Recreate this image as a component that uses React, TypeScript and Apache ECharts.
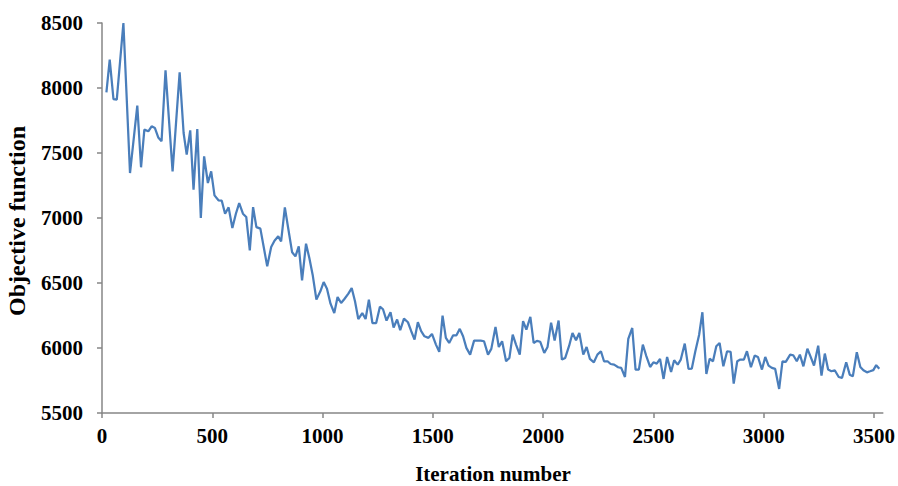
import React, { useEffect, useRef } from "react";
import * as echarts from "echarts";

const iterations: number[] = [
  20, 35, 52, 67, 97, 127, 160, 177, 192, 210, 225, 240, 255, 270, 288, 320, 352, 370, 384, 400,
  415, 432, 448, 463, 480, 495, 510, 528, 543, 558, 574, 591, 607, 622, 639, 654, 670, 685, 700, 718,
  734, 749, 767, 782, 799, 812, 829, 844, 862, 877, 892, 907, 925, 940, 955, 972, 990, 1005, 1020, 1036,
  1053, 1068, 1084, 1099, 1117, 1132, 1147, 1162, 1180, 1195, 1210, 1226, 1243, 1260, 1274, 1290, 1308, 1322, 1338, 1352,
  1369, 1387, 1402, 1417, 1432, 1447, 1462, 1480, 1496, 1514, 1529, 1544, 1559, 1574, 1592, 1607, 1622, 1637, 1652, 1669,
  1687, 1702, 1717, 1732, 1750, 1765, 1784, 1799, 1814, 1832, 1847, 1862, 1877, 1894, 1909, 1924, 1942, 1957, 1972, 1987,
  2005, 2020, 2036, 2052, 2070, 2085, 2100, 2118, 2133, 2149, 2164, 2182, 2197, 2212, 2230, 2246, 2262, 2276, 2292, 2306,
  2322, 2340, 2354, 2371, 2386, 2404, 2419, 2434, 2452, 2467, 2485, 2500, 2515, 2530, 2546, 2562, 2580, 2594, 2610, 2624,
  2642, 2659, 2674, 2690, 2707, 2722, 2740, 2755, 2770, 2785, 2800, 2817, 2834, 2850, 2864, 2880, 2894, 2910, 2924, 2942,
  2959, 2974, 2992, 3007, 3022, 3037, 3052, 3070, 3085, 3100, 3120, 3134, 3150, 3164, 3180, 3198, 3212, 3228, 3247, 3262,
  3277, 3292, 3307, 3322, 3340, 3355, 3374, 3390, 3404, 3422, 3438, 3452, 3468, 3482, 3497, 3510, 3524,
];

const objective: number[] = [
  7967, 8218, 7915, 7910, 8500, 7346, 7864, 7390, 7680, 7667, 7705, 7692, 7620, 7590, 8136, 7359, 8120, 7654, 7487, 7674,
  7218, 7685, 7000, 7474, 7269, 7359, 7174, 7136, 7133, 7033, 7082, 6923, 7033, 7115, 7033, 7008, 6751, 7084, 6930, 6918,
  6769, 6628, 6777, 6825, 6859, 6820, 7082, 6923, 6736, 6705, 6782, 6520, 6802, 6692, 6564, 6372, 6436, 6507, 6456, 6341,
  6269, 6392, 6346, 6377, 6418, 6461, 6359, 6223, 6269, 6223, 6372, 6192, 6192, 6318, 6298, 6211, 6275, 6158, 6219, 6137,
  6226, 6198, 6129, 6065, 6198, 6129, 6090, 6078, 6108, 6026, 5970, 6249, 6078, 6039, 6098, 6098, 6147, 6090, 6001, 5949,
  6057, 6057, 6057, 6052, 5949, 5993, 6162, 6008, 6052, 5898, 5924, 6103, 6026, 5949, 6206, 6142, 6239, 6039, 6055, 6048,
  5962, 6008, 6195, 6057, 6211, 5911, 5924, 6018, 6116, 6059, 6116, 5949, 6008, 5916, 5890, 5949, 5975, 5898, 5898, 5877,
  5872, 5852, 5847, 5777, 6070, 6154, 5834, 5834, 6026, 5942, 5854, 5890, 5880, 5916, 5762, 5931, 5816, 5906, 5872, 5911,
  6034, 5839, 5842, 5975, 6100, 6275, 5800, 5918, 5898, 6013, 6039, 5859, 5975, 5970, 5726, 5898, 5911, 5911, 5975, 5852,
  5941, 5931, 5834, 5931, 5865, 5847, 5839, 5685, 5898, 5893, 5949, 5944, 5898, 5949, 5859, 5995, 5936, 5865, 6018, 5788,
  5957, 5834, 5821, 5829, 5777, 5770, 5890, 5795, 5782, 5967, 5854, 5829, 5813, 5821, 5830, 5868, 5840,
];

const xTicks: number[] = [0, 500, 1000, 1500, 2000, 2500, 3000, 3500];
const xTitle = "Iteration number";
const yTitle = "Objective function";

const FONT = "'Liberation Serif', 'Times New Roman', serif";

export default function App() {
  const ref = useRef<HTMLDivElement>(null);

  useEffect(() => {
    if (!ref.current) return;
    const chart = echarts.init(ref.current, undefined, { renderer: "svg" });
    const data = iterations.map((x, i) => [x, objective[i]]);
    const axisLineStyle = { color: "#868686", width: 1.5 };
    const plain = (v: number) => String(v);
    chart.setOption({
      animation: false,
      backgroundColor: "#ffffff",
      grid: { left: 102, right: 10, top: 23, bottom: 73, containLabel: false },
      xAxis: {
        type: "value",
        min: 0,
        max: 3540,
        interval: 500,
        axisLine: { show: true, lineStyle: axisLineStyle },
        axisTick: { show: true, inside: false, length: 5, lineStyle: axisLineStyle, customValues: xTicks },
        axisLabel: {
          customValues: xTicks,
          formatter: plain,
          margin: 12,
          color: "#000",
          fontFamily: FONT,
          fontWeight: "bold",
          fontSize: 21,
        },
        splitLine: { show: false },
      },
      yAxis: {
        type: "value",
        min: 5500,
        max: 8500,
        interval: 500,
        axisLine: { show: true, lineStyle: axisLineStyle },
        axisTick: { show: true, inside: false, length: 5, lineStyle: axisLineStyle },
        axisLabel: {
          formatter: plain,
          margin: 19,
          color: "#000",
          fontFamily: FONT,
          fontWeight: "bold",
          fontSize: 21,
        },
        splitLine: { show: false },
      },
      graphic: [
        {
          type: "text",
          x: 493,
          y: 474,
          style: {
            text: xTitle,
            fill: "#000",
            font: `bold 21px ${FONT}`,
            textAlign: "center",
            textVerticalAlign: "middle",
          },
        },
        {
          type: "text",
          x: 17,
          y: 221,
          rotation: Math.PI / 2,
          style: {
            text: yTitle,
            fill: "#000",
            font: `bold 24px ${FONT}`,
            textAlign: "center",
            textVerticalAlign: "middle",
          },
        },
      ],
      series: [
        {
          type: "line",
          data,
          showSymbol: false,
          symbol: "none",
          lineStyle: { color: "#4A7EBB", width: 2.25 },
          itemStyle: { color: "#4A7EBB" },
        },
      ],
    });
    return () => chart.dispose();
  }, []);

  return (
    <div
      ref={ref}
      style={{ position: "fixed", left: 0, top: 0, width: 898, height: 486, background: "#fff" }}
    />
  );
}
